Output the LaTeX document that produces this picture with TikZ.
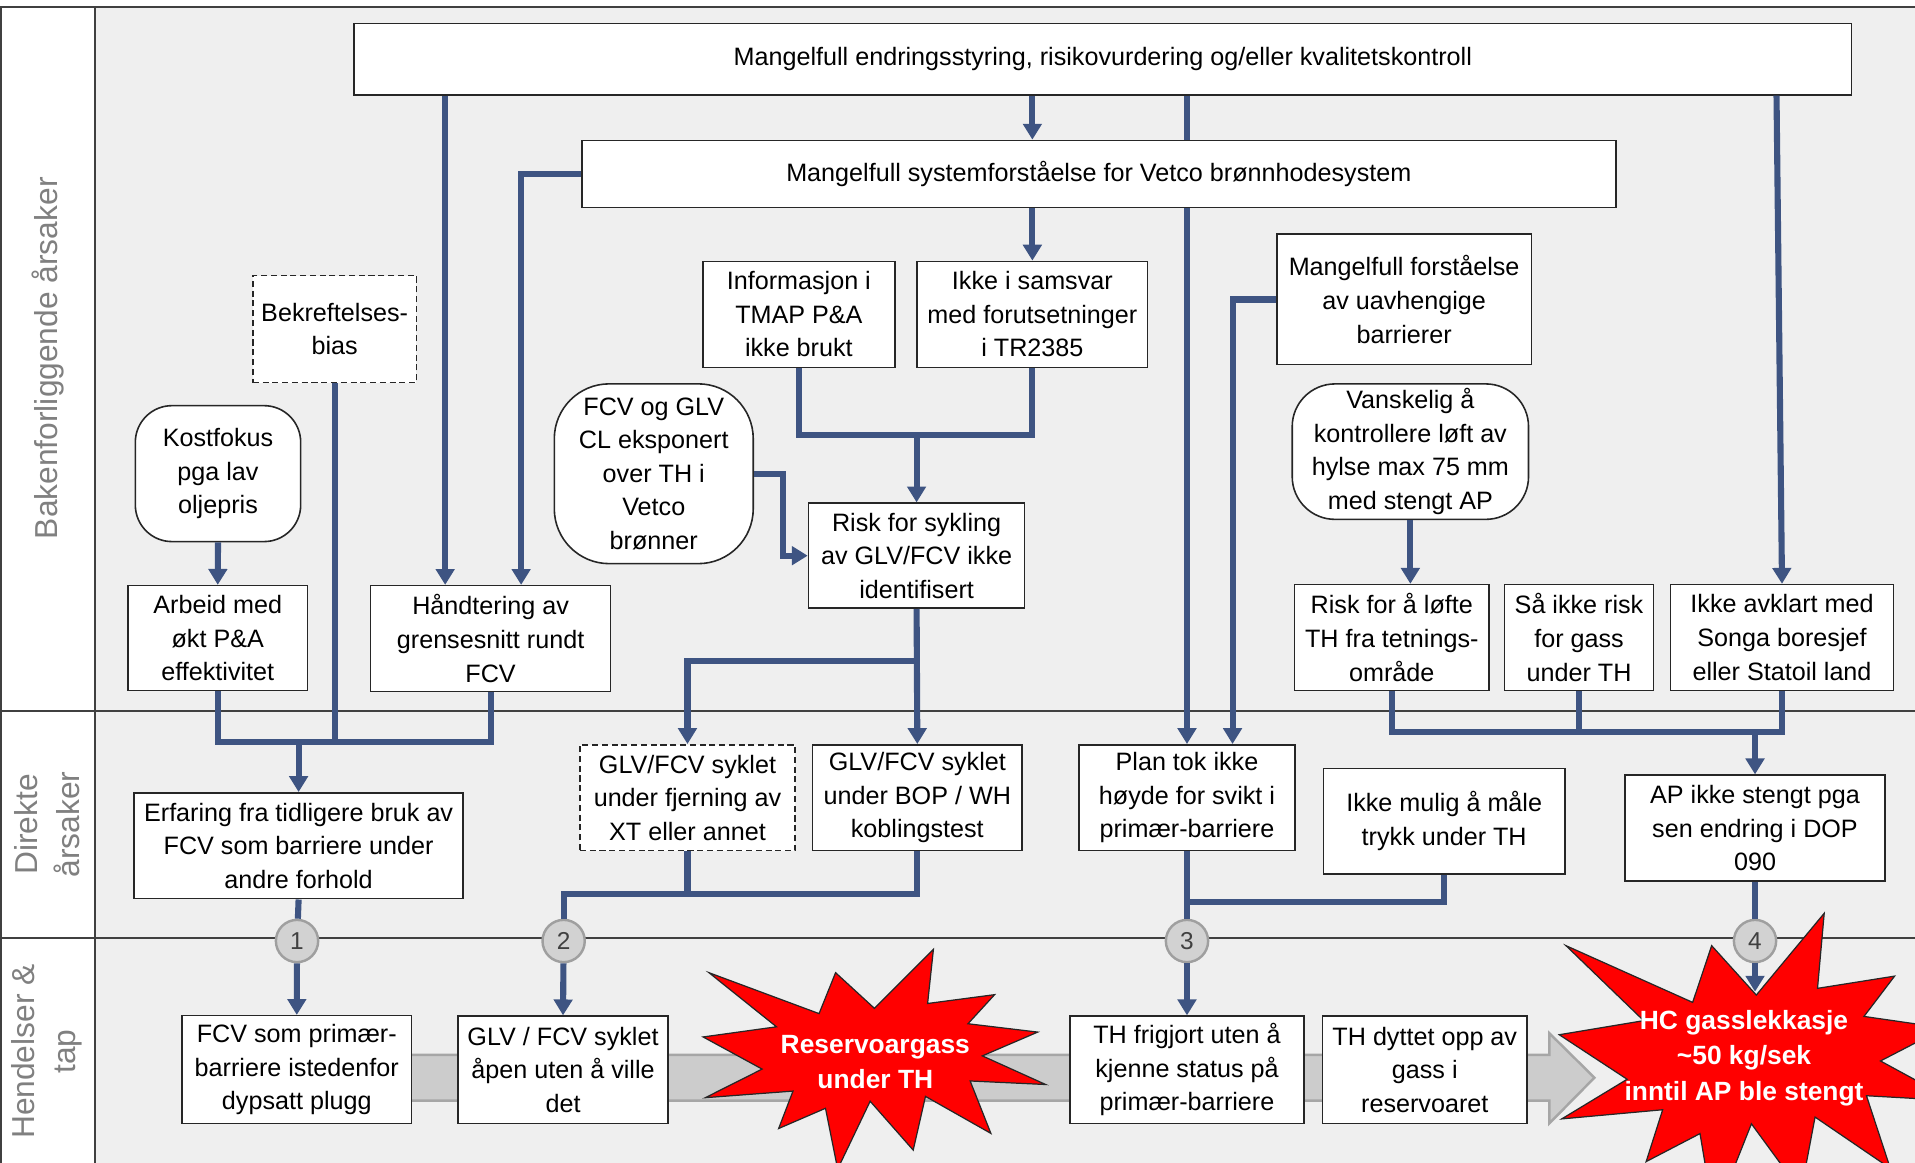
\documentclass[tikz,border=0pt]{standalone}
\usepackage{fontspec}
\setmainfont{Liberation Sans}
\usetikzlibrary{arrows.meta}
\definecolor{linjeblaa}{RGB}{62,84,130}
\definecolor{bakgrunn}{RGB}{239,239,239}
\definecolor{ramme}{RGB}{38,38,38}
\definecolor{skille}{RGB}{64,64,64}
\definecolor{etikett}{RGB}{128,128,128}
\definecolor{sirkel}{RGB}{210,210,210}
\definecolor{pilgraa}{RGB}{204,204,204}
\definecolor{eksplrod}{RGB}{255,0,0}
\tikzset{
  boks/.style={draw=ramme,line width=1.3pt,fill=white,align=center,inner sep=2pt,
    font=\fontsize{20.6}{27.5}\selectfont},
  stiplet/.style={boks,dash pattern=on 5pt off 3pt},
  rund/.style={boks,rounded corners=#1},
  nr/.style={circle,draw=gray!75,line width=2pt,fill=sirkel,minimum size=34.6,inner sep=0pt,
    text=skille,font=\fontsize{20}{24}\selectfont},
  felt/.style={rotate=90,align=center,text=etikett,font=\fontsize{26}{34}\selectfont},
  eksplo/.style={align=center,text=white,font=\fontsize{21.6}{29}\selectfont\bfseries},
  forb/.style={draw=linjeblaa,line width=5pt},
  pil/.style={forb,-{Triangle[width=15pt,length=13pt]}}
}
\newcommand\eksplosjon[1]{\draw[fill=eksplrod,draw=ramme,line width=1pt,#1]
  (50,26.85) -- (67.23,0) -- (65.53,24.65) -- (85.09,20.63) -- (77.32,33.87) -- (97.67,37.67)
  -- (81.51,48.5) -- (100,61.53) -- (77.95,59.92) -- (84,83.77) -- (64.91,66.93) -- (61.33,91.38)
  -- (48.76,69.14) -- (39.28,100) -- (35.72,72.35) -- (22.05,81.56) -- (26.24,64.52) -- (0.63,67.53)
  -- (17.23,54.51) -- (0,39.88) -- (21.42,35.26) -- (1.71,10.63) -- (33.85,29.26) -- (38.67,10.63) -- cycle;}
\begin{document}
\begin{tikzpicture}[x=1pt,y=-1pt]
\useasboundingbox (0,0) rectangle (1568,952);
\clip (0,0) rectangle (1568,952);
\fill[white] (0,0) rectangle (1568,952);
\fill[bakgrunn] (77.7,5.6) rectangle (1568,952);
\draw[skille,line width=1.2pt] (0,5.6) -- (1568,5.6);
\draw[skille,line width=1.6pt] (0.8,5.6) -- (0.8,952);
\draw[skille,line width=1.6pt] (77.7,5.6) -- (77.7,952);
\draw[skille,line width=1.2pt] (0,582) -- (1568,582);
\draw[skille,line width=1.2pt] (0,768) -- (1568,768);
\node[felt] (bak) at (39,293.3) {Bakenforliggende årsaker};
\node[felt] (dir) at (38.5,675) {Direkte\\årsaker};
\node[felt] (hend) at (38.5,861) {Hendelser \&\\tap};
\draw[fill=pilgraa,draw=gray!70,line width=2pt] (250,863.8) -- (1268.6,863.8) -- (1268.6,846)
  -- (1305.5,882.4) -- (1268.6,919.8) -- (1268.6,901.2) -- (250,901.2) -- cycle;
\eksplosjon{shift={(575.7,777.3)},xscale=2.805,yscale=1.799}
\eksplosjon{shift={(1276.7,747.8)},xscale=3.227,yscale=2.493}
\node[eksplo] (gass) at (716.7,869.7) {Reservoargass\\under TH};
\node[eksplo] (lekk) at (1428,866.3) {HC gasslekkasje\\\textasciitilde 50 kg/sek\\inntil AP ble stengt};
\coordinate (hc) at (1437,812);

\node[boks,minimum width=1226,minimum height=58.3] (topp) at (903,48.5) {Mangelfull endringsstyring, risikovurdering og/eller kvalitetskontroll};
\node[boks,minimum width=846.7,minimum height=54.8] (sys) at (899.7,142.4) {Mangelfull systemforståelse for Vetco brønnhodesystem};
\node[stiplet,minimum width=134,minimum height=87.7] (bek) at (274,269.5) {Bekreftelses-\\bias};
\node[rund=30pt,minimum width=135.4,minimum height=111.3] (kost) at (178.5,387.8) {Kostfokus\\pga lav\\oljepris};
\node[boks,minimum width=157,minimum height=86.7] (info) at (654.1,257.4) {Informasjon i\\TMAP P\&A\\ikke brukt};
\node[boks,minimum width=188.6,minimum height=86.7] (samsvar) at (845.3,257.4) {Ikke i samsvar\\med forutsetninger\\i TR2385};
\node[rund=45pt,minimum width=162.9,minimum height=147.2] (fcvglv) at (535.3,387.9) {FCV og GLV\\CL eksponert\\over TH i\\Vetco\\brønner};
\node[boks,minimum width=177,minimum height=86] (risk) at (750.5,455) {Risk for sykling\\av GLV/FCV ikke\\identifisert};
\node[boks,minimum width=208.6,minimum height=106.8] (mforst) at (1149.7,245.2) {Mangelfull forståelse\\av uavhengige\\barrierer};
\node[rund=35pt,minimum width=193.5,minimum height=110.9] (vansk) at (1154.8,369.8) {Vanskelig å\\kontrollere løft av\\hylse max 75 mm\\med stengt AP};
\node[boks,minimum width=146.9,minimum height=85.8] (arbeid) at (178.3,522.4) {Arbeid med\\økt P\&A\\effektivitet};
\node[boks,minimum width=196.5,minimum height=86.5] (hand) at (401.7,522.8) {Håndtering av\\grensesnitt rundt\\FCV};
\node[boks,minimum width=159.2,minimum height=86.7] (loft) at (1139.6,522) {Risk for å løfte\\TH fra tetnings-\\område};
\node[boks,minimum width=121.9,minimum height=86.7] (saikke) at (1292.9,522) {Så ikke risk\\for gass\\under TH};
\node[boks,minimum width=182.4,minimum height=86.7] (avklart) at (1459.1,522) {Ikke avklart med\\Songa boresjef\\eller Statoil land};

\node[boks,minimum width=269.3,minimum height=86.7] (erf) at (244.5,692.5) {Erfaring fra tidligere bruk av\\FCV som barriere under\\andre forhold};
\node[stiplet,minimum width=176.1,minimum height=86.7] (glvxt) at (562.9,653.2) {GLV/FCV syklet\\under fjerning av\\XT eller annet};
\node[boks,minimum width=171.4,minimum height=86.7] (glvbop) at (751.1,653.2) {GLV/FCV syklet\\under BOP / WH\\koblingstest};
\node[boks,minimum width=177.3,minimum height=86.7] (plan) at (971.9,653.2) {Plan tok ikke\\høyde for svikt i\\primær-barriere};
\node[boks,minimum width=197.6,minimum height=86.1] (maale) at (1182.5,672.4) {Ikke mulig å måle\\trykk under TH};
\node[boks,minimum width=212.7,minimum height=86.8] (ap) at (1437,678.1) {AP ikke stengt pga\\sen endring i DOP\\090};

\node[boks,minimum width=188.1,minimum height=88.3] (fcvsom) at (243,875.8) {FCV som primær-\\barriere istedenfor\\dypsatt plugg};
\node[boks,minimum width=172,minimum height=88] (glvapen) at (461,876) {GLV / FCV syklet\\åpen uten å ville\\det};
\node[boks,minimum width=191.4,minimum height=88] (thfri) at (971.9,876) {TH frigjort uten å\\kjenne status på\\primær-barriere};
\node[boks,minimum width=167.8,minimum height=88] (thdyt) at (1166.6,876) {TH dyttet opp av\\gass i\\reservoaret};

\node[nr] (nr1) at (243.2,770.5) {1};
\node[nr] (nr2) at (461.5,770.5) {2};
\node[nr] (nr3) at (971.9,770.5) {3};
\node[nr] (nr4) at (1437,770.5) {4};

\coordinate (h1) at ([xshift=-37.2pt]hand.north);
\coordinate (h2) at ([xshift=25pt]hand.north);
\coordinate (a1) at ([xshift=-4.5pt]avklart.north);
\coordinate (p1) at ([xshift=37.3pt]plan.north);
\coordinate (j1) at (750.5,356.2);
\coordinate (j2) at (244.5,607.3);
\coordinate (j3) at (750.5,541);
\coordinate (j4) at (461.5,732.1);
\coordinate (j5) at (971.9,738.2);
\coordinate (j6) at (1437,599.7);

\draw[pil] (h1 |- topp.south) -- (h1);
\draw[pil] (sys.west) -| (h2);
\draw[pil] (topp.south -| samsvar.north) -- (sys.north -| samsvar.north);
\draw[forb] (topp.south -| plan.north) -- (sys.north -| plan.north);
\draw[pil] (sys.south -| plan.north) -- (plan.north);
\draw[pil] (topp.south -| a1) -- (avklart.north);
\draw[pil] (sys.south -| samsvar.north) -- (samsvar.north);
\draw[forb] (info.south) |- (samsvar.south |- j1) -- (samsvar.south);
\draw[pil] (j1) -- (risk.north);
\draw[pil] (fcvglv.east) -- ++(23.6,0) |- (risk.west);
\draw[pil] (mforst.west) -| (p1);
\draw[pil] (vansk.south) -- (vansk.south |- loft.north);
\draw[pil] (kost.south) -- (arbeid.north);
\draw[forb] (arbeid.south) |- (hand.south |- j2) -- (hand.south);
\draw[forb] (bek.south) -- (bek.south |- j2);
\draw[pil] (j2) -- (erf.north);
\draw[pil] (risk.south) -- (glvbop.north);
\draw[pil] (j3) -| (glvxt.north);
\draw[forb] (glvbop.south) |- (j4) -- (nr2);
\draw[forb] (glvxt.south) -- (glvxt.south |- j4);
\draw[pil] (nr2) -- (glvapen.north);
\draw[forb] (erf.south) -- (nr1);
\draw[pil] (nr1) -- (fcvsom.north);
\draw[forb] (plan.south) -- (nr3);
\draw[forb] (maale.south) |- (j5);
\draw[pil] (nr3) -- (thfri.north);
\draw[forb] (loft.south) |- (avklart.south |- j6) -- (avklart.south);
\draw[forb] (saikke.south) -- (saikke.south |- j6);
\draw[pil] (j6) -- (ap.north);
\draw[forb] (ap.south) -- (nr4);
\draw[pil] (nr4) -- (hc);
\end{tikzpicture}
\end{document}
